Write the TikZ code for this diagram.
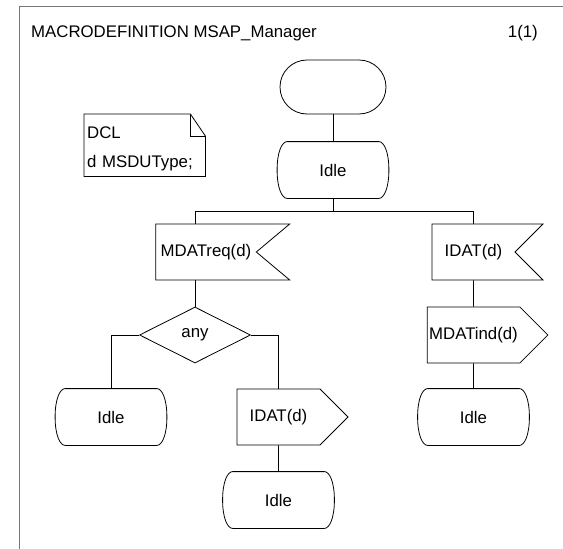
\documentclass[tikz,border=0pt]{standalone}
\definecolor{framegray}{RGB}{118, 118, 118}
\usepackage{fontspec}
\setmainfont{Liberation Sans}
\usepackage{tikz}
\usetikzlibrary{shapes.geometric, shapes.misc, shapes.symbols}

\tikzset{
  sdlfont/.style={font=\fontsize{16.8}{20}\selectfont},
  sdlbase/.style={draw, line width=0.8pt, inner sep=2pt, minimum height=56pt, sdlfont},
  startbox/.style={sdlbase, rounded rectangle, minimum width=110pt, minimum height=54pt},
  statebox/.style={sdlbase, draw=none, rectangle, minimum width=101pt},
  inputbox/.style={sdlbase, signal, signal to=nowhere, signal from=east, signal pointer angle=90, minimum width=111pt},
  outputbox/.style={sdlbase, signal, signal to=east, signal pointer angle=90, minimum width=111pt},
  decisionbox/.style={sdlbase, diamond, minimum width=111pt},
  flow/.style={line width=0.8pt}
}
% outline of a state symbol round a named node
\newcommand{\stateoutline}[1]{%
  \draw[flow] ([xshift=5pt]#1.north west) -- ([xshift=-5pt]#1.north east)
    .. controls (#1.north east) and ([xshift=5pt, yshift=-10pt]#1.north east) .. ([xshift=5pt]#1.east)
    .. controls ([xshift=5pt, yshift=10pt]#1.south east) and (#1.south east) .. ([xshift=-5pt]#1.south east)
    -- ([xshift=5pt]#1.south west)
    .. controls (#1.south west) and ([xshift=-5pt, yshift=10pt]#1.south west) .. ([xshift=-5pt]#1.west)
    .. controls ([xshift=-5pt, yshift=-10pt]#1.north west) and (#1.north west) .. ([xshift=5pt]#1.north west) -- cycle;}

\begin{document}
\begin{tikzpicture}[x=1pt, y=-1pt]
  \useasboundingbox (0,0) rectangle (563,549);

  % Frame and heading
  \draw[framegray, line width=1pt] (563,6.5) -- (19,6.5) -- (19,549);
  \node[sdlfont, anchor=west, inner sep=0] (title) at (31,33) {MACRODEFINITION MSAP\_Manager};
  \node[sdlfont, anchor=east, inner sep=0] (page) at (538,33) {1(1)};

  % Declaration
  \node[sdlfont, text width=115pt, align=left, inner sep=3pt, minimum height=62pt, anchor=north west] (dcl) at (84,114) {\rule{0pt}{20pt}DCL\\[9pt]d MSDUType;};
  \draw[flow] (dcl.north west) -- ([xshift=-15pt]dcl.north east) -- ([yshift=-22pt]dcl.north east) -- (dcl.south east) -- (dcl.south west) -- cycle;
  \draw[flow] ([xshift=-15pt]dcl.north east) -- ([xshift=-15pt, yshift=-22pt]dcl.north east) -- ([yshift=-22pt]dcl.north east);

  % Symbols
  \node[startbox] (start) at (333,87) {};
  \node[statebox] (idle0) at (333,170) {Idle};
  \node[inputbox, minimum width=134pt, signal pointer angle=80] (mdatreq) at (206,252) {MDATreq(d)};
  \node[inputbox] (idatin) at (473.5,252) {IDAT(d)};
  \node[decisionbox] (any) at (195,335) {any};
  \node[outputbox] (mdatind) at (473.5,335) {MDATind(d)};
  \node[statebox] (idle1) at (111,417) {Idle};
  \node[outputbox] (idatout) at (278.5,417) {IDAT(d)};
  \node[statebox] (idle3) at (473.5,417) {Idle};
  \node[statebox] (idle2) at (278.5,500) {Idle};
  \stateoutline{idle0}
  \stateoutline{idle1}
  \stateoutline{idle2}
  \stateoutline{idle3}

  % Flow lines
  \coordinate (fork) at (333,211);
  \draw[flow] (start) -- (idle0);
  \draw[flow] (idle0) -- (fork);
  \draw[flow] (fork) -| (any |- mdatreq.north);
  \draw[flow] (fork) -| (idatin);
  \draw[flow] (any |- mdatreq.south) -- (any);
  \draw[flow] (idatin) -- (mdatind);
  \draw[flow] (mdatind) -- (idle3);
  \draw[flow] (any.west) -| (idle1);
  \draw[flow] (any.east) -| (idatout);
  \draw[flow] (idatout) -- (idle2);
\end{tikzpicture}
\end{document}
